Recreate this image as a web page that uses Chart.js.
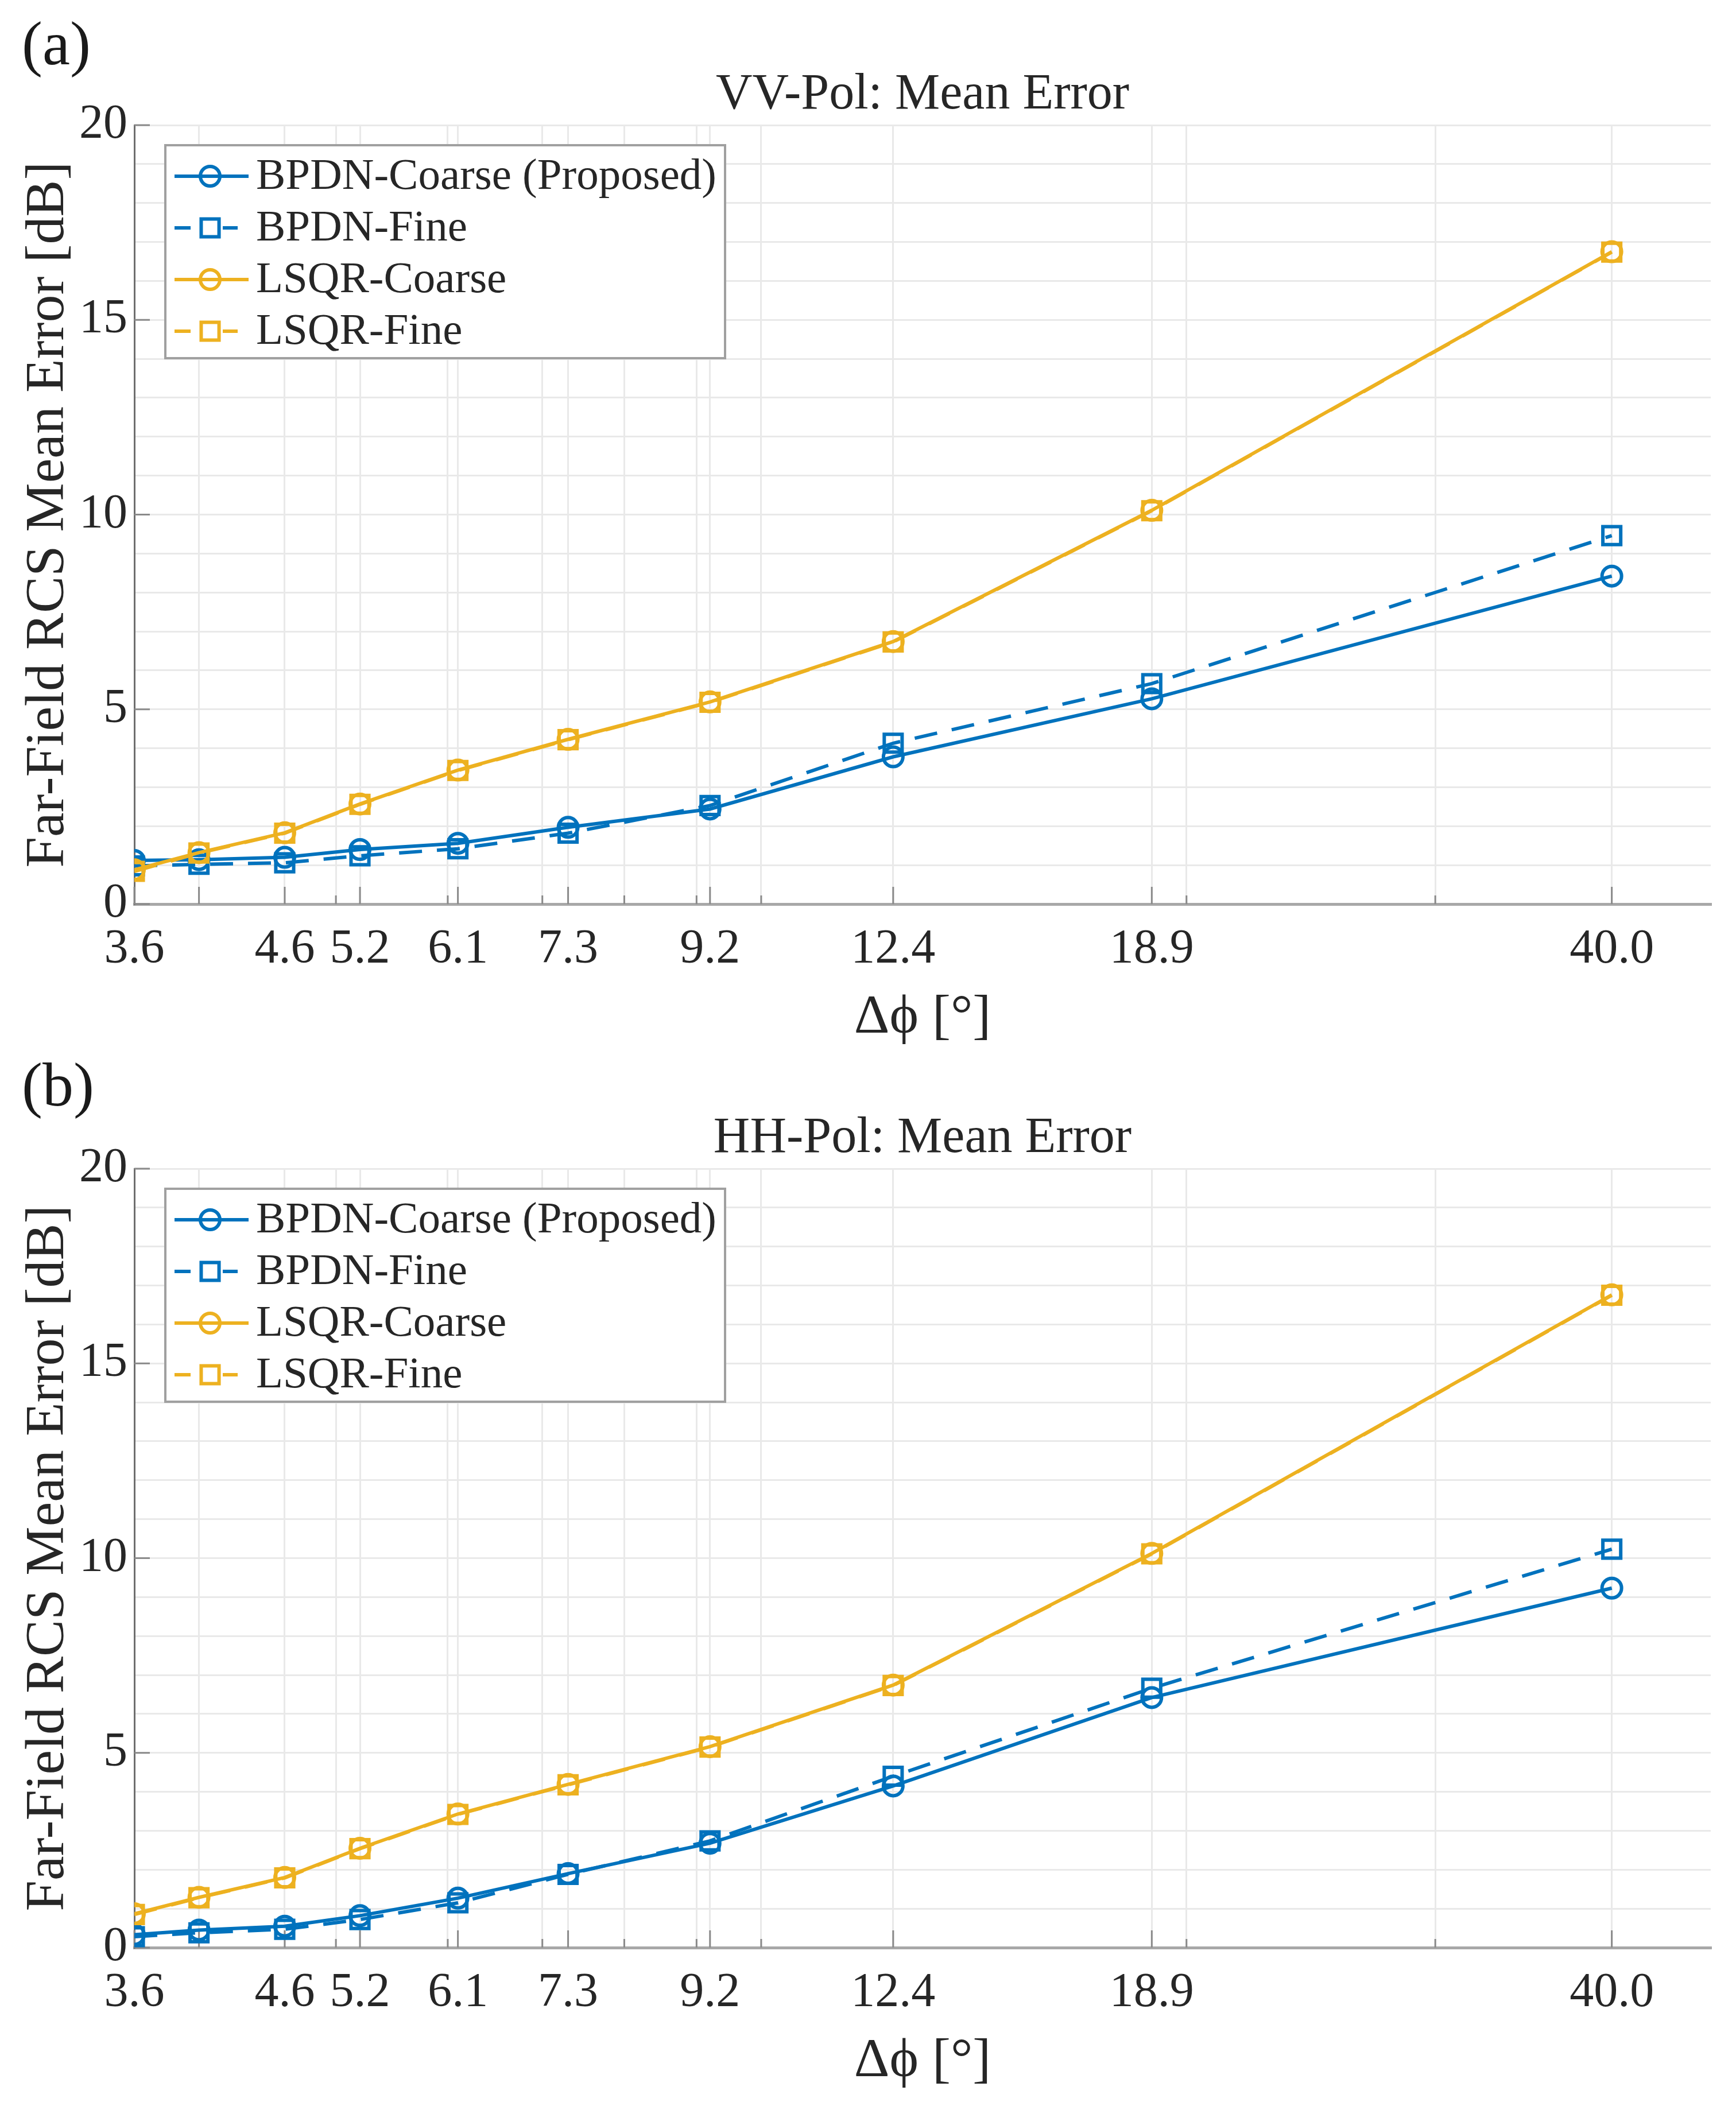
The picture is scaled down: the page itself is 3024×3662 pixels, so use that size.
<!DOCTYPE html>
<html>
<head>
<meta charset="utf-8">
<script src="https://cdn.jsdelivr.net/npm/chart.js@4.4.0/dist/chart.umd.min.js"></script>
<style>
  html, body { margin: 0; padding: 0; background: #ffffff; }
  #page { position: relative; width: 3024px; height: 3662px; background: #ffffff; overflow: hidden; }
  canvas { position: absolute; left: 0; }
  .panel-tag { position: absolute; left: 38px; font-family: "Liberation Serif", "Times New Roman", serif; font-size: 108px; line-height: 1; color: #1a1a1a; }
</style>
</head>
<body>
<div id="page">
  <canvas id="chartA" width="3024" height="1831" style="top:0px"></canvas>
  <canvas id="chartB" width="3024" height="1831" style="top:1818px"></canvas>
  <div class="panel-tag" style="top:22px">(a)</div>
  <div class="panel-tag" style="top:1836px">(b)</div>
</div>
<script>
// ---------- data ----------
const xValues      = [3.6, 4.0, 4.6, 5.2, 6.1, 7.3, 9.2, 12.4, 18.9, 40.0];
const xTickLabels  = ['3.6', '', '4.6', '5.2', '6.1', '7.3', '9.2', '12.4', '18.9', '40.0'];
const xMinorTicks  = [5, 6, 7, 8, 9, 10, 20, 30];
const yMajorTicks  = [0, 5, 10, 15, 20];

const seriesNames = ['BPDN-Coarse (Proposed)', 'BPDN-Fine', 'LSQR-Coarse', 'LSQR-Fine'];
const panelTitles = ['VV-Pol: Mean Error', 'HH-Pol: Mean Error'];

// VV polarisation
const bpdnCoarseVV = [1.12, 1.14, 1.20, 1.40, 1.56, 1.97, 2.44, 3.78, 5.27, 8.42];
const bpdnFineVV   = [0.98, 1.02, 1.06, 1.24, 1.42, 1.82, 2.53, 4.13, 5.66, 9.46];
const lsqrCoarseVV = [0.88, 1.32, 1.83, 2.57, 3.44, 4.23, 5.19, 6.74, 10.11, 16.75];
const lsqrFineVV   = [0.84, 1.31, 1.82, 2.56, 3.43, 4.22, 5.18, 6.73, 10.10, 16.74];

// HH polarisation
const bpdnCoarseHH = [0.33, 0.45, 0.55, 0.82, 1.27, 1.90, 2.68, 4.15, 6.42, 9.23];
const bpdnFineHH   = [0.28, 0.38, 0.47, 0.72, 1.15, 1.88, 2.74, 4.40, 6.66, 10.23];
const lsqrCoarseHH = [0.87, 1.29, 1.80, 2.55, 3.43, 4.19, 5.16, 6.74, 10.12, 16.76];
const lsqrFineHH   = [0.85, 1.28, 1.79, 2.54, 3.42, 4.18, 5.15, 6.73, 10.11, 16.75];

// ---------- styles ----------
const FONT = '"Liberation Serif", "Times New Roman", serif';
const TEXT = '#262626';
const BLUE = '#0072BD';
const ORANGE = '#EDB120';
const DASH = [40, 26];

function pts(ys) { return xValues.map((x, i) => ({ x: x, y: ys[i] })); }

function makeDatasets(bc, bf, lc, lf) {
  const common = { borderWidth: 6, pointBorderWidth: 6, pointBackgroundColor: 'rgba(0,0,0,0)', fill: false, tension: 0 };
  return [
    Object.assign({ label: seriesNames[0], data: pts(bc), borderColor: BLUE, pointBorderColor: BLUE, pointStyle: 'circle', pointRadius: 17, order: 3 }, common),
    Object.assign({ label: seriesNames[1], data: pts(bf), borderColor: BLUE, pointBorderColor: BLUE, pointStyle: 'rect', pointRadius: 22, borderDash: DASH, order: 2 }, common),
    Object.assign({ label: seriesNames[2], data: pts(lc), borderColor: ORANGE, pointBorderColor: ORANGE, pointStyle: 'circle', pointRadius: 17, order: 1 }, common),
    Object.assign({ label: seriesNames[3], data: pts(lf), borderColor: ORANGE, pointBorderColor: ORANGE, pointStyle: 'rect', pointRadius: 22, borderDash: DASH, order: 0 }, common)
  ];
}

// inner tick marks (MATLAB style, pointing into the axes)
const innerTicks = {
  id: 'innerTicks',
  beforeDatasetsDraw(chart) {
    const ctx = chart.ctx, a = chart.chartArea, xs = chart.scales.x, ys = chart.scales.y;
    ctx.save();
    ctx.strokeStyle = '#8a8a8a';
    ctx.lineWidth = 3;
    ctx.beginPath();
    xValues.forEach(v => { const p = xs.getPixelForValue(v); ctx.moveTo(p, a.bottom); ctx.lineTo(p, a.bottom - 30); });
    xMinorTicks.forEach(v => { const p = xs.getPixelForValue(v); ctx.moveTo(p, a.bottom); ctx.lineTo(p, a.bottom - 15); });
    yMajorTicks.forEach(v => { const p = ys.getPixelForValue(v); ctx.moveTo(a.left, p); ctx.lineTo(a.left + 27, p); });
    ctx.stroke();
    ctx.restore();
  }
};

// axes title centred over the plot area
const axesTitle = {
  id: 'axesTitle',
  afterDraw(chart, args, opts) {
    const ctx = chart.ctx, a = chart.chartArea;
    ctx.save();
    ctx.fillStyle = TEXT;
    ctx.font = '88px ' + FONT;
    ctx.textAlign = 'center';
    ctx.textBaseline = 'middle';
    ctx.fillText(opts.text, (a.left + a.right) / 2, a.top - 52);
    ctx.restore();
  }
};

function drawMarker(ctx, style, r, x, y) {
  ctx.beginPath();
  if (style === 'rect') {
    const s = Math.SQRT1_2 * r;
    ctx.rect(x - s, y - s, 2 * s, 2 * s);
  } else {
    ctx.arc(x, y, r, 0, Math.PI * 2);
  }
  ctx.stroke();
}

// legend drawn inside the axes, with line + marker samples
const boxLegend = {
  id: 'boxLegend',
  afterDraw(chart) {
    const ctx = chart.ctx, a = chart.chartArea;
    const bx = a.left + 54, by = a.top + 35, bw = 975, bh = 371;
    ctx.save();
    ctx.fillStyle = '#ffffff';
    ctx.fillRect(bx, by, bw, bh);
    ctx.strokeStyle = '#a0a0a0';
    ctx.lineWidth = 4;
    ctx.strokeRect(bx, by, bw, bh);
    chart.data.datasets.forEach((ds, i) => {
      const cy = by + 54 + i * 90;
      ctx.strokeStyle = ds.borderColor;
      ctx.lineWidth = 6;
      ctx.setLineDash([]);
      if (ds.borderDash) {
        ctx.beginPath(); ctx.moveTo(bx + 16, cy); ctx.lineTo(bx + 44, cy); ctx.stroke();
        ctx.beginPath(); ctx.moveTo(bx + 100, cy); ctx.lineTo(bx + 126, cy); ctx.stroke();
      } else {
        ctx.beginPath(); ctx.moveTo(bx + 16, cy); ctx.lineTo(bx + 145, cy); ctx.stroke();
      }
      drawMarker(ctx, ds.pointStyle, ds.pointRadius, bx + 78, cy);
      ctx.fillStyle = TEXT;
      ctx.font = '77px ' + FONT;
      ctx.textBaseline = 'middle';
      ctx.textAlign = 'left';
      ctx.fillText(ds.label, bx + 158, cy + 2);
    });
    ctx.restore();
  }
};

function makePanel(id, titleText, datasets) {
  return new Chart(document.getElementById(id), {
    type: 'line',
    data: { datasets: datasets },
    plugins: [innerTicks, boxLegend, axesTitle],
    options: {
      responsive: false,
      devicePixelRatio: 1,
      animation: false,
      layout: { padding: { left: 0, right: 44, top: 218, bottom: 0 } },
      plugins: {
        legend: { display: false },
        tooltip: { enabled: false },
        title: { display: false },
        axesTitle: { text: titleText }
      },
      scales: {
        x: {
          type: 'logarithmic', min: 3.6, max: 47,
          afterBuildTicks: s => { s.ticks = xValues.concat(xMinorTicks).sort((p, q) => p - q).map(v => ({ value: v })); },
          afterFit: s => { s.height = 256; },
          grid: { color: '#e9e9e9', lineWidth: 3, drawTicks: false },
          border: { color: '#a8a8a8', width: 5 },
          ticks: {
            autoSkip: false, maxRotation: 0, minRotation: 0, padding: 30, color: TEXT,
            font: { family: FONT, size: 84 },
            callback: v => { const i = xValues.indexOf(v); return i >= 0 ? xTickLabels[i] : ''; }
          },
          title: { display: true, text: 'Δϕ [°]', color: TEXT, font: { family: FONT, size: 96 }, padding: { top: 0, bottom: 0 } }
        },
        y: {
          min: 0, max: 20,
          afterFit: s => { s.width = 234; },
          grid: { color: '#e9e9e9', lineWidth: 3, drawTicks: false },
          border: { color: '#6e6e6e', width: 3 },
          ticks: {
            stepSize: 1, autoSkip: false, padding: 12, color: TEXT,
            font: { family: FONT, size: 84 },
            callback: v => (v % 5 === 0 ? String(v) : '')
          },
          title: { display: true, text: 'Far-Field RCS Mean Error [dB]', color: TEXT, font: { family: FONT, size: 96 }, padding: { top: 27, bottom: 0 } }
        }
      }
    }
  });
}

makePanel('chartA', panelTitles[0], makeDatasets(bpdnCoarseVV, bpdnFineVV, lsqrCoarseVV, lsqrFineVV));
makePanel('chartB', panelTitles[1], makeDatasets(bpdnCoarseHH, bpdnFineHH, lsqrCoarseHH, lsqrFineHH));
</script>
</body>
</html>
